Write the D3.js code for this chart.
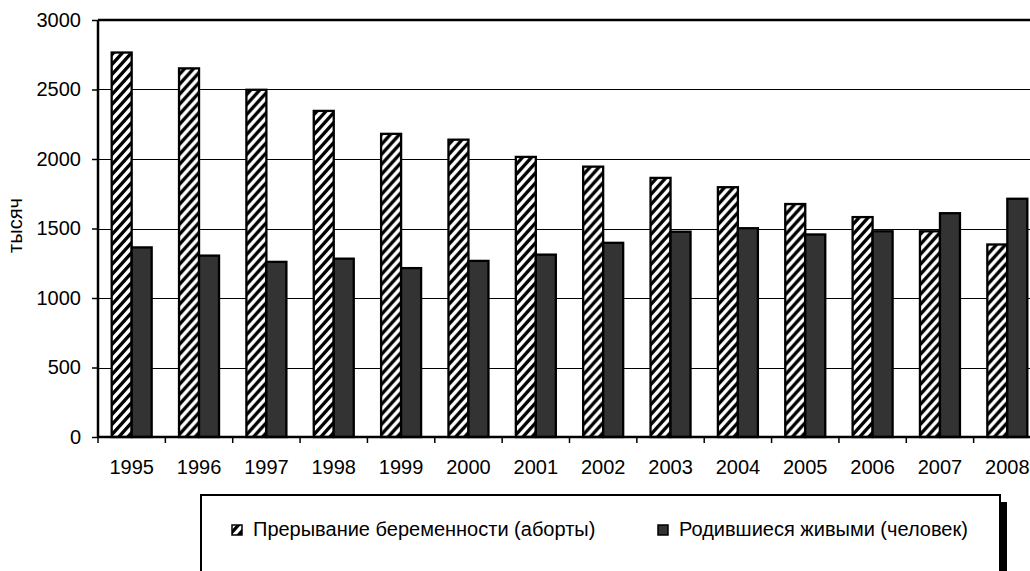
<!DOCTYPE html>
<html>
<head>
<meta charset="utf-8">
<script src="https://cdn.jsdelivr.net/npm/d3@7"></script>
<style>
  html, body { margin: 0; padding: 0; background: #fff; }
  svg { display: block; }
  text { font-family: "Liberation Sans", Arial, sans-serif; fill: #000; }
</style>
</head>
<body>
<svg id="chart" width="1030" height="571"></svg>
<script>
const years = ["1995","1996","1997","1998","1999","2000","2001","2002","2003","2004","2005","2006","2007","2008"];
const abortions = [2766, 2652, 2498, 2346, 2181, 2139, 2015, 1945, 1864, 1797, 1676, 1582, 1480, 1385];
const births = [1364, 1305, 1260, 1283, 1215, 1267, 1312, 1397, 1477, 1502, 1457, 1480, 1610, 1714];
const seriesNames = ["Прерывание беременности (аборты)", "Родившиеся живыми (человек)"];
const yTicks = [0, 500, 1000, 1500, 2000, 2500, 3000];
const yTitle = "тысяч";

const W = 1030, H = 571;
const pLeft = 98, pTop = 20, pBottom = 437, pRight = 1041;
const FS = "20px";
const svg = d3.select("#chart");

const defs = svg.append("defs");
const tw = 9, th = 10;
const pat = defs.append("pattern").attr("id", "hatch").attr("patternUnits", "userSpaceOnUse")
  .attr("width", tw).attr("height", th);
pat.append("rect").attr("width", tw).attr("height", th).attr("fill", "#fff");
pat.append("path")
  .attr("d", `M${-tw},${2*th} L${2*tw},${-th} M0,${2*th} L${3*tw},${-th} M${-2*tw},${2*th} L${tw},${-th}`)
  .attr("stroke", "#000").attr("stroke-width", 3.3);

const x0 = d3.scaleBand().domain(years).range([pLeft, pRight]).padding(0);
const x1 = d3.scaleBand().domain([0, 1]).range([0, x0.bandwidth()]).paddingInner(0).paddingOuter(0.684);
const y = d3.scaleLinear().domain([0, 3000]).range([pBottom, pTop]);

// gridlines
svg.append("g").selectAll("line").data(yTicks.filter(t => t > 0 && t < 3000)).join("line")
  .attr("x1", pLeft).attr("x2", W).attr("y1", d => Math.round(y(d)) + 0.5).attr("y2", d => Math.round(y(d)) + 0.5)
  .attr("stroke", "#000").attr("stroke-width", 1);
// top line
svg.append("line").attr("x1", pLeft).attr("x2", W).attr("y1", y(3000)).attr("y2", y(3000))
  .attr("stroke", "#000").attr("stroke-width", 2.5);

// bars
const data = years.map((yr, i) => ({ yr, vals: [abortions[i], births[i]] }));
const groups = svg.append("g").selectAll("g").data(data).join("g")
  .attr("transform", d => `translate(${x0(d.yr)},0)`);
groups.selectAll("rect").data(d => d.vals.map((v, k) => ({ v, k }))).join("rect")
  .attr("x", d => x1(d.k))
  .attr("width", x1.bandwidth())
  .attr("y", d => y(d.v))
  .attr("height", d => y(0) - y(d.v))
  .attr("fill", d => d.k === 0 ? "url(#hatch)" : "#333333")
  .attr("stroke", "#000").attr("stroke-width", 2.3);

// y axis
const yAxis = d3.axisLeft(y).tickValues(yTicks).tickSize(6).tickPadding(11).tickFormat(d3.format("d"));
const gy = svg.append("g").attr("transform", `translate(${pLeft},0)`).call(yAxis);
gy.select(".domain").attr("stroke", "#000").attr("stroke-width", 2.5).attr("d", `M0,${pTop}V${pBottom}`);
gy.selectAll(".tick line").attr("stroke", "#000").attr("stroke-width", 1.5);
gy.selectAll(".tick text").style("font-size", FS).style("font-family", "Liberation Sans, Arial, sans-serif").style("fill", "#000");

// x axis
const xAxis = d3.axisBottom(x0).tickSize(0).tickPadding(23);
const gx = svg.append("g").attr("transform", `translate(0,${pBottom})`).call(xAxis);
gx.select(".domain").attr("stroke", "#000").attr("stroke-width", 2.5).attr("d", `M${pLeft},0H${W}`);
gx.selectAll(".tick text").style("font-size", FS).style("font-family", "Liberation Sans, Arial, sans-serif").style("fill", "#000");
svg.append("g").selectAll("line").data(years).join("line")
  .attr("x1", d => x0(d)).attr("x2", d => x0(d)).attr("y1", pBottom).attr("y2", pBottom + 6)
  .attr("stroke", "#000").attr("stroke-width", 1.5);

// y title
svg.append("text").attr("transform", `translate(17,${(pTop + pBottom) / 2 - 3}) rotate(-90)`)
  .attr("text-anchor", "middle").attr("dominant-baseline", "middle")
  .style("font-size", FS).style("fill", "#000").text(yTitle);

// legend
svg.append("rect").attr("x", 1001).attr("y", 502).attr("width", 6).attr("height", 80).attr("fill", "#000");
svg.append("rect").attr("x", 201).attr("y", 495).attr("width", 799).attr("height", 90)
  .attr("fill", "#fff").attr("stroke", "#000").attr("stroke-width", 2);
const legX = [232, 658];
seriesNames.forEach((name, k) => {
  svg.append("rect").attr("x", legX[k]).attr("y", 525).attr("width", 10).attr("height", 10)
    .attr("fill", k === 0 ? "url(#hatch)" : "#333333").attr("stroke", "#000").attr("stroke-width", 1.5);
  svg.append("text").attr("x", legX[k] + 21).attr("y", 531).attr("dominant-baseline", "middle")
    .style("font-size", FS).style("fill", "#000").text(name);
});
</script>
</body>
</html>
